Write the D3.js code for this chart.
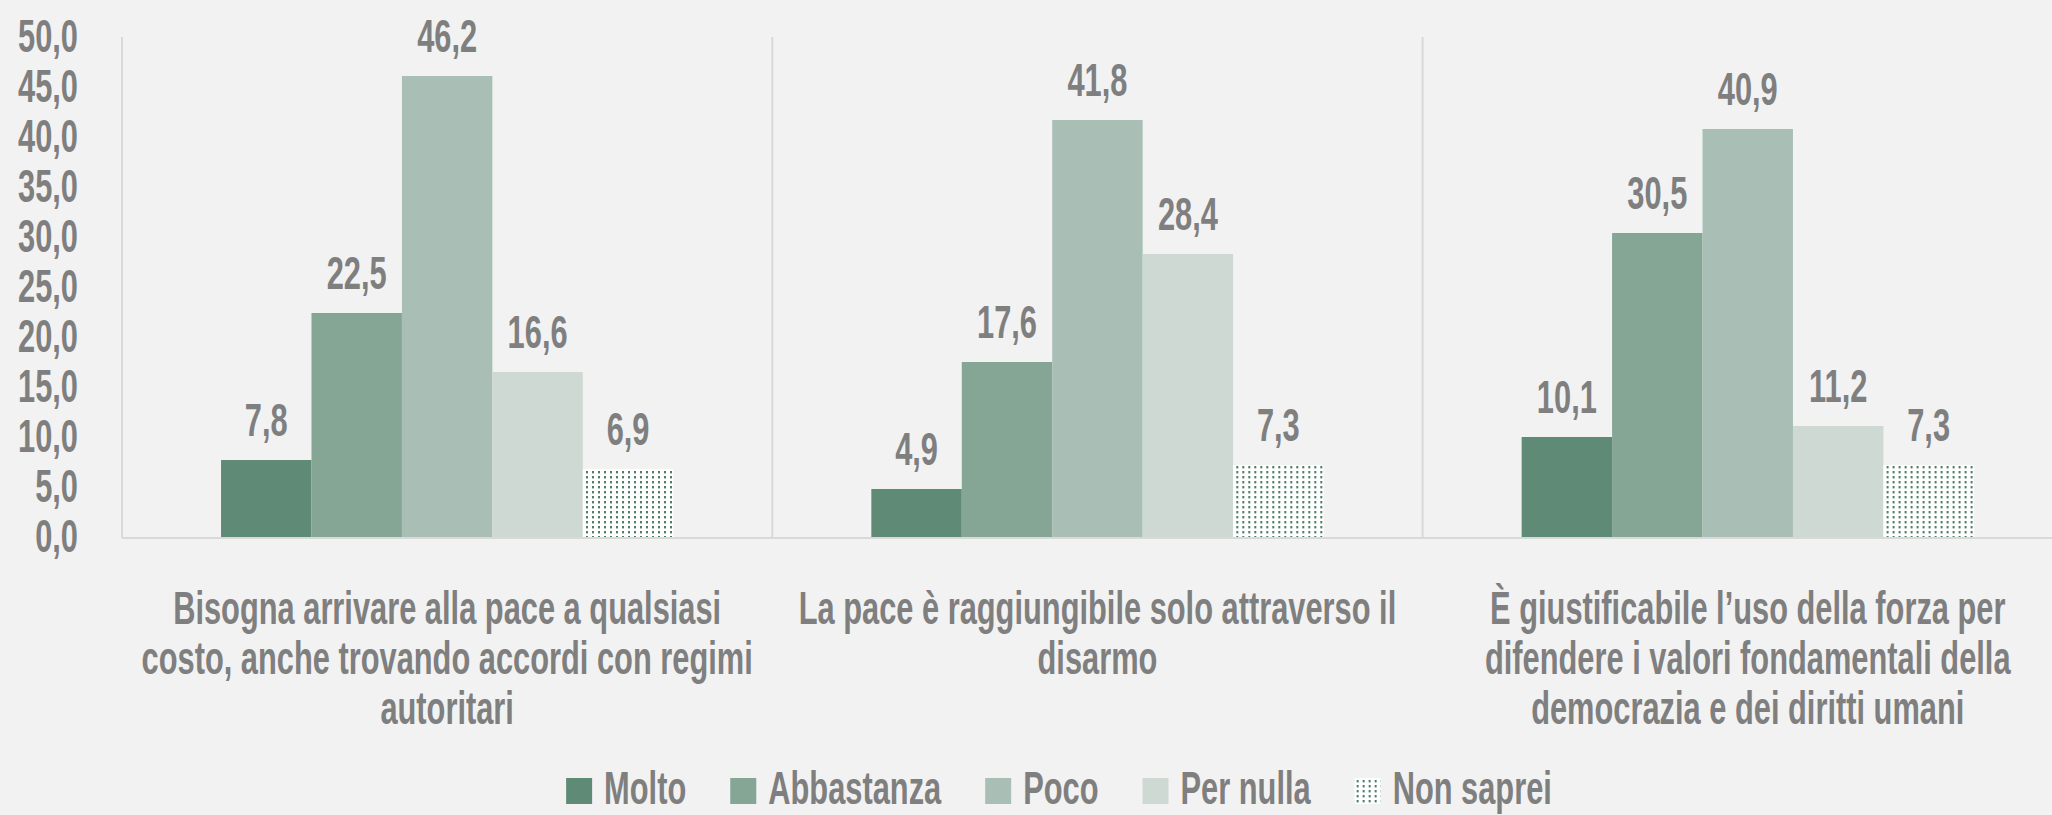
<!DOCTYPE html>
<html>
<head>
<meta charset="utf-8">
<script src="https://cdn.jsdelivr.net/npm/d3@7"></script>
<style>
  html, body { margin: 0; padding: 0; background: #f2f2f2; }
  svg { display: block; }
</style>
</head>
<body>
<svg id="chart" width="2052" height="815"></svg>
<script>
// ---------------- DATA ----------------
const categories = [
  "Bisogna arrivare alla pace a qualsiasi costo, anche trovando accordi con regimi autoritari",
  "La pace è raggiungibile solo attraverso il disarmo",
  "È giustificabile l’uso della forza per difendere i valori fondamentali della democrazia e dei diritti umani"
];
const categoryLines = [
  ["Bisogna arrivare alla pace a qualsiasi", "costo, anche trovando accordi con regimi", "autoritari"],
  ["La pace è raggiungibile solo attraverso il", "disarmo"],
  ["È giustificabile l’uso della forza per", "difendere i valori fondamentali della", "democrazia e dei diritti umani"]
];
const seriesNames = ["Molto", "Abbastanza", "Poco", "Per nulla", "Non saprei"];
const molto      = [7.8, 4.9, 10.1];
const abbastanza = [22.5, 17.6, 30.5];
const poco       = [46.2, 41.8, 40.9];
const perNulla   = [16.6, 28.4, 11.2];
const nonSaprei  = [6.9, 7.3, 7.3];
const yTickValues = [0, 5, 10, 15, 20, 25, 30, 35, 40, 45, 50];

const seriesValues = [molto, abbastanza, poco, perNulla, nonSaprei];
const seriesFill = ["#5f8b76", "#85a595", "#a9bfb5", "#cfd9d4", "url(#dots)"];

// ---------------- FONT ----------------
function hasFont(name) {
  const ctx = document.createElement("canvas").getContext("2d");
  const s = "abcdefghijklmnopqrstuvwxyz0123456789ABCDEFGHIJ";
  ctx.font = "bold 72px monospace";
  const a = ctx.measureText(s).width;
  ctx.font = `bold 72px "${name}", monospace`;
  const b = ctx.measureText(s).width;
  return a !== b;
}
let fontFamily, sx;
if (hasFont("Liberation Sans Narrow")) { fontFamily = '"Liberation Sans Narrow"'; sx = 0.82; }
else { fontFamily = '"Liberation Sans", Arial, sans-serif'; sx = 0.67; }
const fontSize = 46;
const textColor = "#7f7f7f";

// ---------------- LAYOUT ----------------
const svg = d3.select("#chart");
const W = 2052, H = 815;
svg.append("rect").attr("width", W).attr("height", H).attr("fill", "#f2f2f2");

const defs = svg.append("defs");
const pat = defs.append("pattern").attr("id", "dots")
  .attr("patternUnits", "userSpaceOnUse").attr("width", 6).attr("height", 5);
pat.append("rect").attr("width", 6).attr("height", 5).attr("fill", "#ffffff");
pat.append("rect").attr("x", 2).attr("y", 1).attr("width", 2).attr("height", 2.4).attr("fill", "#4f7f68");

const plotLeft = 122, bandW = 650.3, plotTop = 38, plotBottom = 538;
const x0 = d3.scaleBand().domain(categories).range([plotLeft, plotLeft + bandW * categories.length]);
const gapRatio = 2.19;
const barW = x0.bandwidth() / (seriesNames.length + gapRatio);
const gapHalf = gapRatio * barW / 2;
const x1 = d3.scaleBand().domain(seriesNames).range([gapHalf, x0.bandwidth() - gapHalf]);
const y = d3.scaleLinear().domain([0, 50]).range([plotBottom, plotTop]);

const locale = d3.formatLocale({ decimal: ",", thousands: ".", grouping: [3], currency: ["€", ""] });
const fmt = locale.format(".1f");

function styleText(sel) {
  return sel.attr("font-family", fontFamily).attr("font-weight", "bold")
    .attr("font-size", fontSize).attr("fill", textColor);
}

// separators (vertical lines at category boundaries)
svg.append("g").selectAll("line").data(categories).join("line")
  .attr("x1", d => x0(d)).attr("x2", d => x0(d))
  .attr("y1", y(50) - 1).attr("y2", y(0))
  .attr("stroke", "#d9d9d9").attr("stroke-width", 2);

// bars
const groups = svg.append("g").selectAll("g").data(categories).join("g")
  .attr("transform", d => `translate(${x0(d)},0)`);
groups.selectAll("rect")
  .data((c, ci) => seriesNames.map((s, si) => ({ s, si, v: seriesValues[si][ci] })))
  .join("rect")
  .attr("x", d => x1(d.s)).attr("width", x1.bandwidth())
  .attr("y", d => y(d.v)).attr("height", d => y(0) - y(d.v))
  .attr("fill", d => seriesFill[d.si]);

// data labels
groups.selectAll("text.val")
  .data((c, ci) => seriesNames.map((s, si) => ({ s, si, v: seriesValues[si][ci] })))
  .join("text").attr("class", "val")
  .attr("transform", d => `translate(${x1(d.s) + x1.bandwidth() / 2},${y(d.v) - 24}) scale(${sx},1)`)
  .attr("text-anchor", "middle")
  .text(d => fmt(d.v))
  .call(styleText);

// baseline
svg.append("line")
  .attr("x1", plotLeft).attr("x2", W)
  .attr("y1", y(0)).attr("y2", y(0))
  .attr("stroke", "#d9d9d9").attr("stroke-width", 2);

// y axis labels
const yAxis = svg.append("g").attr("transform", `translate(${plotLeft},0)`)
  .call(d3.axisLeft(y).tickValues(yTickValues).tickFormat(fmt).tickSize(0));
yAxis.select(".domain").remove();
yAxis.selectAll(".tick text")
  .attr("x", null).attr("dy", null)
  .attr("transform", `translate(-44,13) scale(${sx},1)`)
  .attr("text-anchor", "end")
  .call(styleText);

// category labels
const catG = svg.append("g");
categories.forEach((c, ci) => {
  const cx = x0(c) + x0.bandwidth() / 2;
  categoryLines[ci].forEach((line, li) => {
    catG.append("text")
      .attr("transform", `translate(${cx},${624 + li * 50}) scale(${sx},1)`)
      .attr("text-anchor", "middle")
      .text(line)
      .call(styleText);
  });
});

// legend
const legend = svg.append("g");
const sw = 26, swGap = 12, itemGap = 44;
const items = seriesNames.map((s, i) => {
  const g = legend.append("g");
  g.append("rect").attr("width", sw).attr("height", sw).attr("y", -sw).attr("fill", seriesFill[i]);
  const t = g.append("text")
    .attr("transform", `translate(${sw + swGap},0) scale(${sx},1)`)
    .text(s).call(styleText);
  const w = sw + swGap + t.node().getComputedTextLength() * sx;
  return { g, w };
});
const total = d3.sum(items, d => d.w) + itemGap * (items.length - 1);
let lx = 1059 - total / 2;
items.forEach(it => {
  it.g.attr("transform", `translate(${lx},804)`);
  lx += it.w + itemGap;
});
</script>
</body>
</html>
